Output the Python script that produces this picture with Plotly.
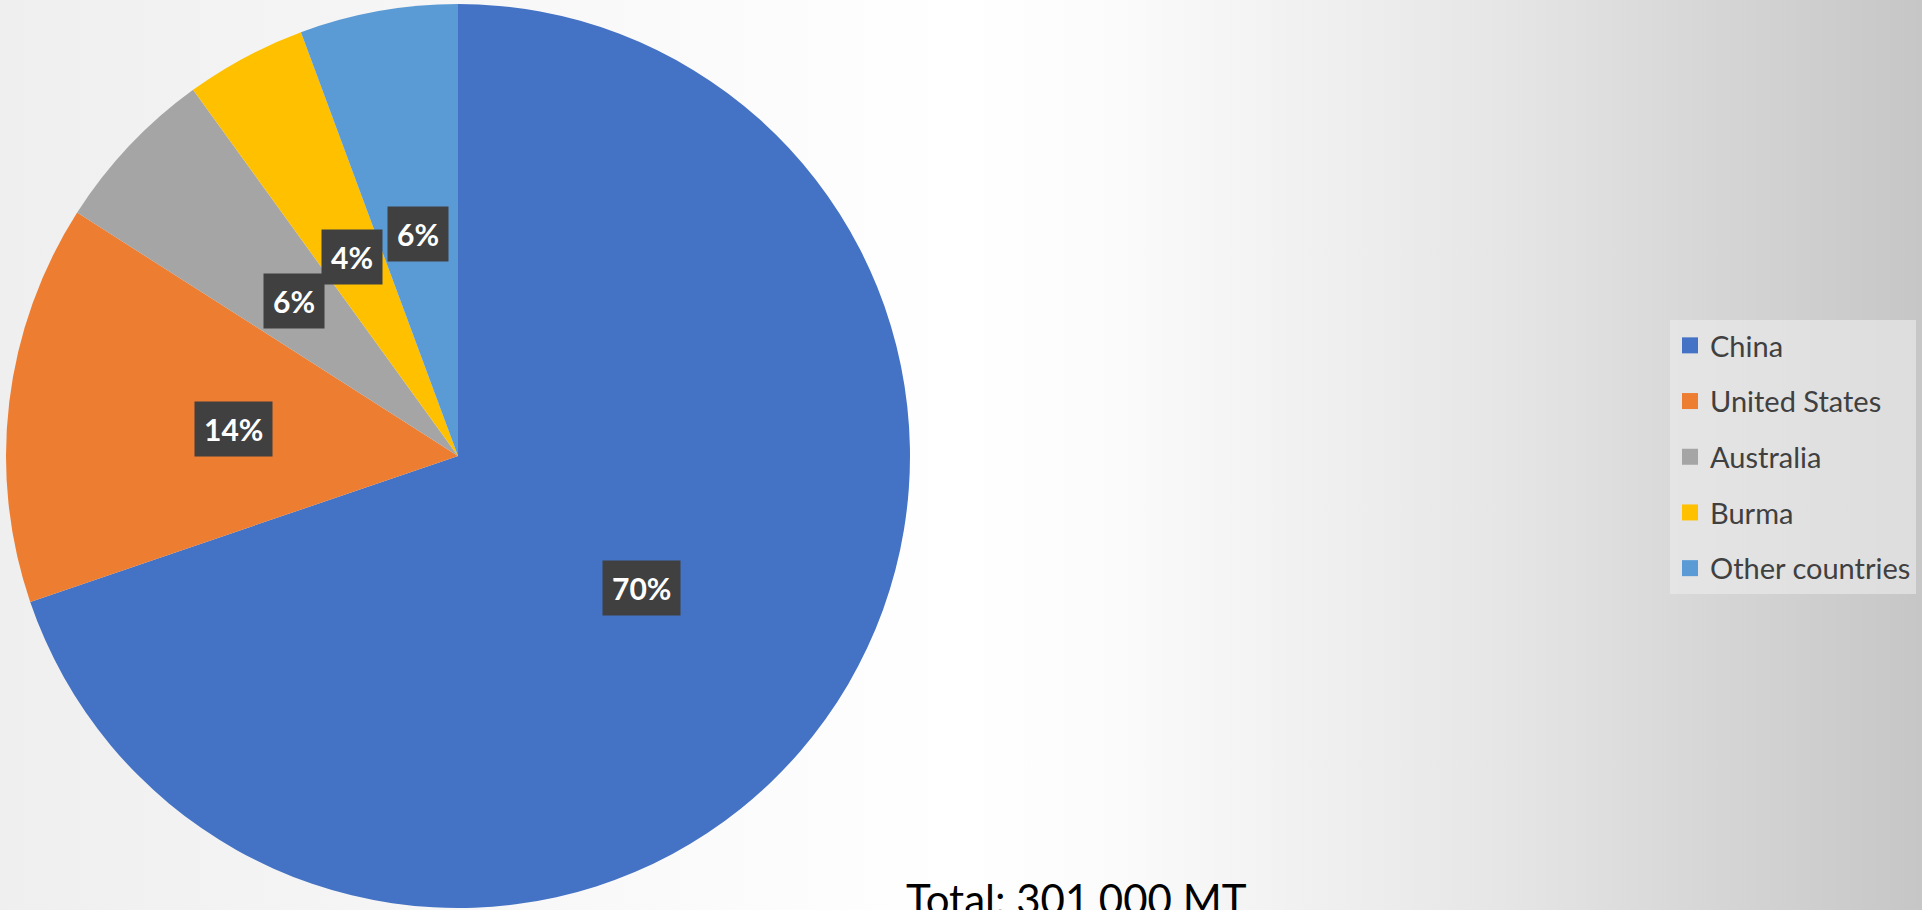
import math
import base64
import plotly.graph_objects as go

# ---- data (thousand metric tons) ----
countries = ["China", "United States", "Australia", "Burma", "Other countries"]
production = [210, 43, 18, 13, 17]
colors = ["#4472C4", "#ED7D31", "#A5A5A5", "#FFC000", "#5B9BD5"]
total_label = "Total: 301,000 MT"

W, H = 1922, 910
CX, CY, R = 458, 456, 452  # pie centre / radius in pixels (from top)

fig = go.Figure()

fig.add_trace(go.Pie(
    labels=countries, values=production, sort=False, direction="clockwise",
    rotation=0, textinfo="none", hoverinfo="label+percent",
    marker=dict(colors=colors, line=dict(width=0)),
    domain=dict(x=[(CX - R) / W, (CX + R) / W], y=[(H - CY - R) / H, (H - CY + R) / H]),
    showlegend=False,
))

# legend entries (squares) for each category
for c, col in zip(countries, colors):
    fig.add_trace(go.Scatter(
        x=[None], y=[None], mode="markers", name=c, legendgroup=c,
        marker=dict(symbol="square", size=16, color=col), showlegend=True,
    ))

# percentage labels in dark boxes, placed at half radius along mid angle
total = sum(production)
annotations = []
cum = 0
for v in production:
    mid = (cum + v / 2) / total * 2 * math.pi
    cum += v
    px = CX + 0.5 * R * math.sin(mid)
    py = CY - 0.5 * R * math.cos(mid)
    txt = f"{round(v / total * 100)}%"
    annotations.append(dict(text=txt, x=px / W, y=1 - py / H, xref="paper", yref="paper",
                            xanchor="center", yanchor="middle",
                            showarrow=False, borderpad=9, bgcolor="#404040",
                            font=dict(family="Lato, Open Sans, sans-serif", size=30,
                                      weight="bold", color="white")))

annotations.append(dict(text=total_label, x=1076 / W, y=1 - 872 / H, xref="paper", yref="paper",
                        xanchor="center", yanchor="top", showarrow=False,
                        font=dict(family="Lato, Open Sans, sans-serif", size=42, color="#000000")))

svg = f'''<svg xmlns="http://www.w3.org/2000/svg" width="{W}" height="{H}" preserveAspectRatio="none">
<defs><linearGradient id="g" x1="0" y1="0" x2="1" y2="0">
<stop offset="0" stop-color="#efefef"/>
<stop offset="0.5" stop-color="#ffffff"/>
<stop offset="0.58" stop-color="#fbfbfb"/>
<stop offset="0.78" stop-color="#e6e6e6"/>
<stop offset="1" stop-color="#c6c6c6"/>
</linearGradient></defs>
<rect width="{W}" height="{H}" fill="url(#g)"/></svg>'''
src = "data:image/svg+xml;base64," + base64.b64encode(svg.encode()).decode()

fig.update_layout(
    width=W, height=H, margin=dict(l=0, r=0, t=0, b=0),
    paper_bgcolor="white", plot_bgcolor="rgba(0,0,0,0)",
    xaxis=dict(visible=False), yaxis=dict(visible=False),
    images=[dict(source=src, xref="paper", yref="paper", x=0, y=1, sizex=1, sizey=1,
                 xanchor="left", yanchor="top", sizing="stretch", layer="below")],
    legend=dict(x=1670 / W, y=1 - 320 / H, xanchor="left", yanchor="top",
                bgcolor="rgba(236,236,236,0.6)", tracegroupgap=15,
                font=dict(family="Lato, Open Sans, sans-serif", size=29, color="#404040"),
                itemsizing="trace"),
    annotations=annotations,
)

fig.write_html("out.html", config={"displayModeBar": False},
               post_script="document.body.style.margin='0';document.body.style.overflow='hidden';")
